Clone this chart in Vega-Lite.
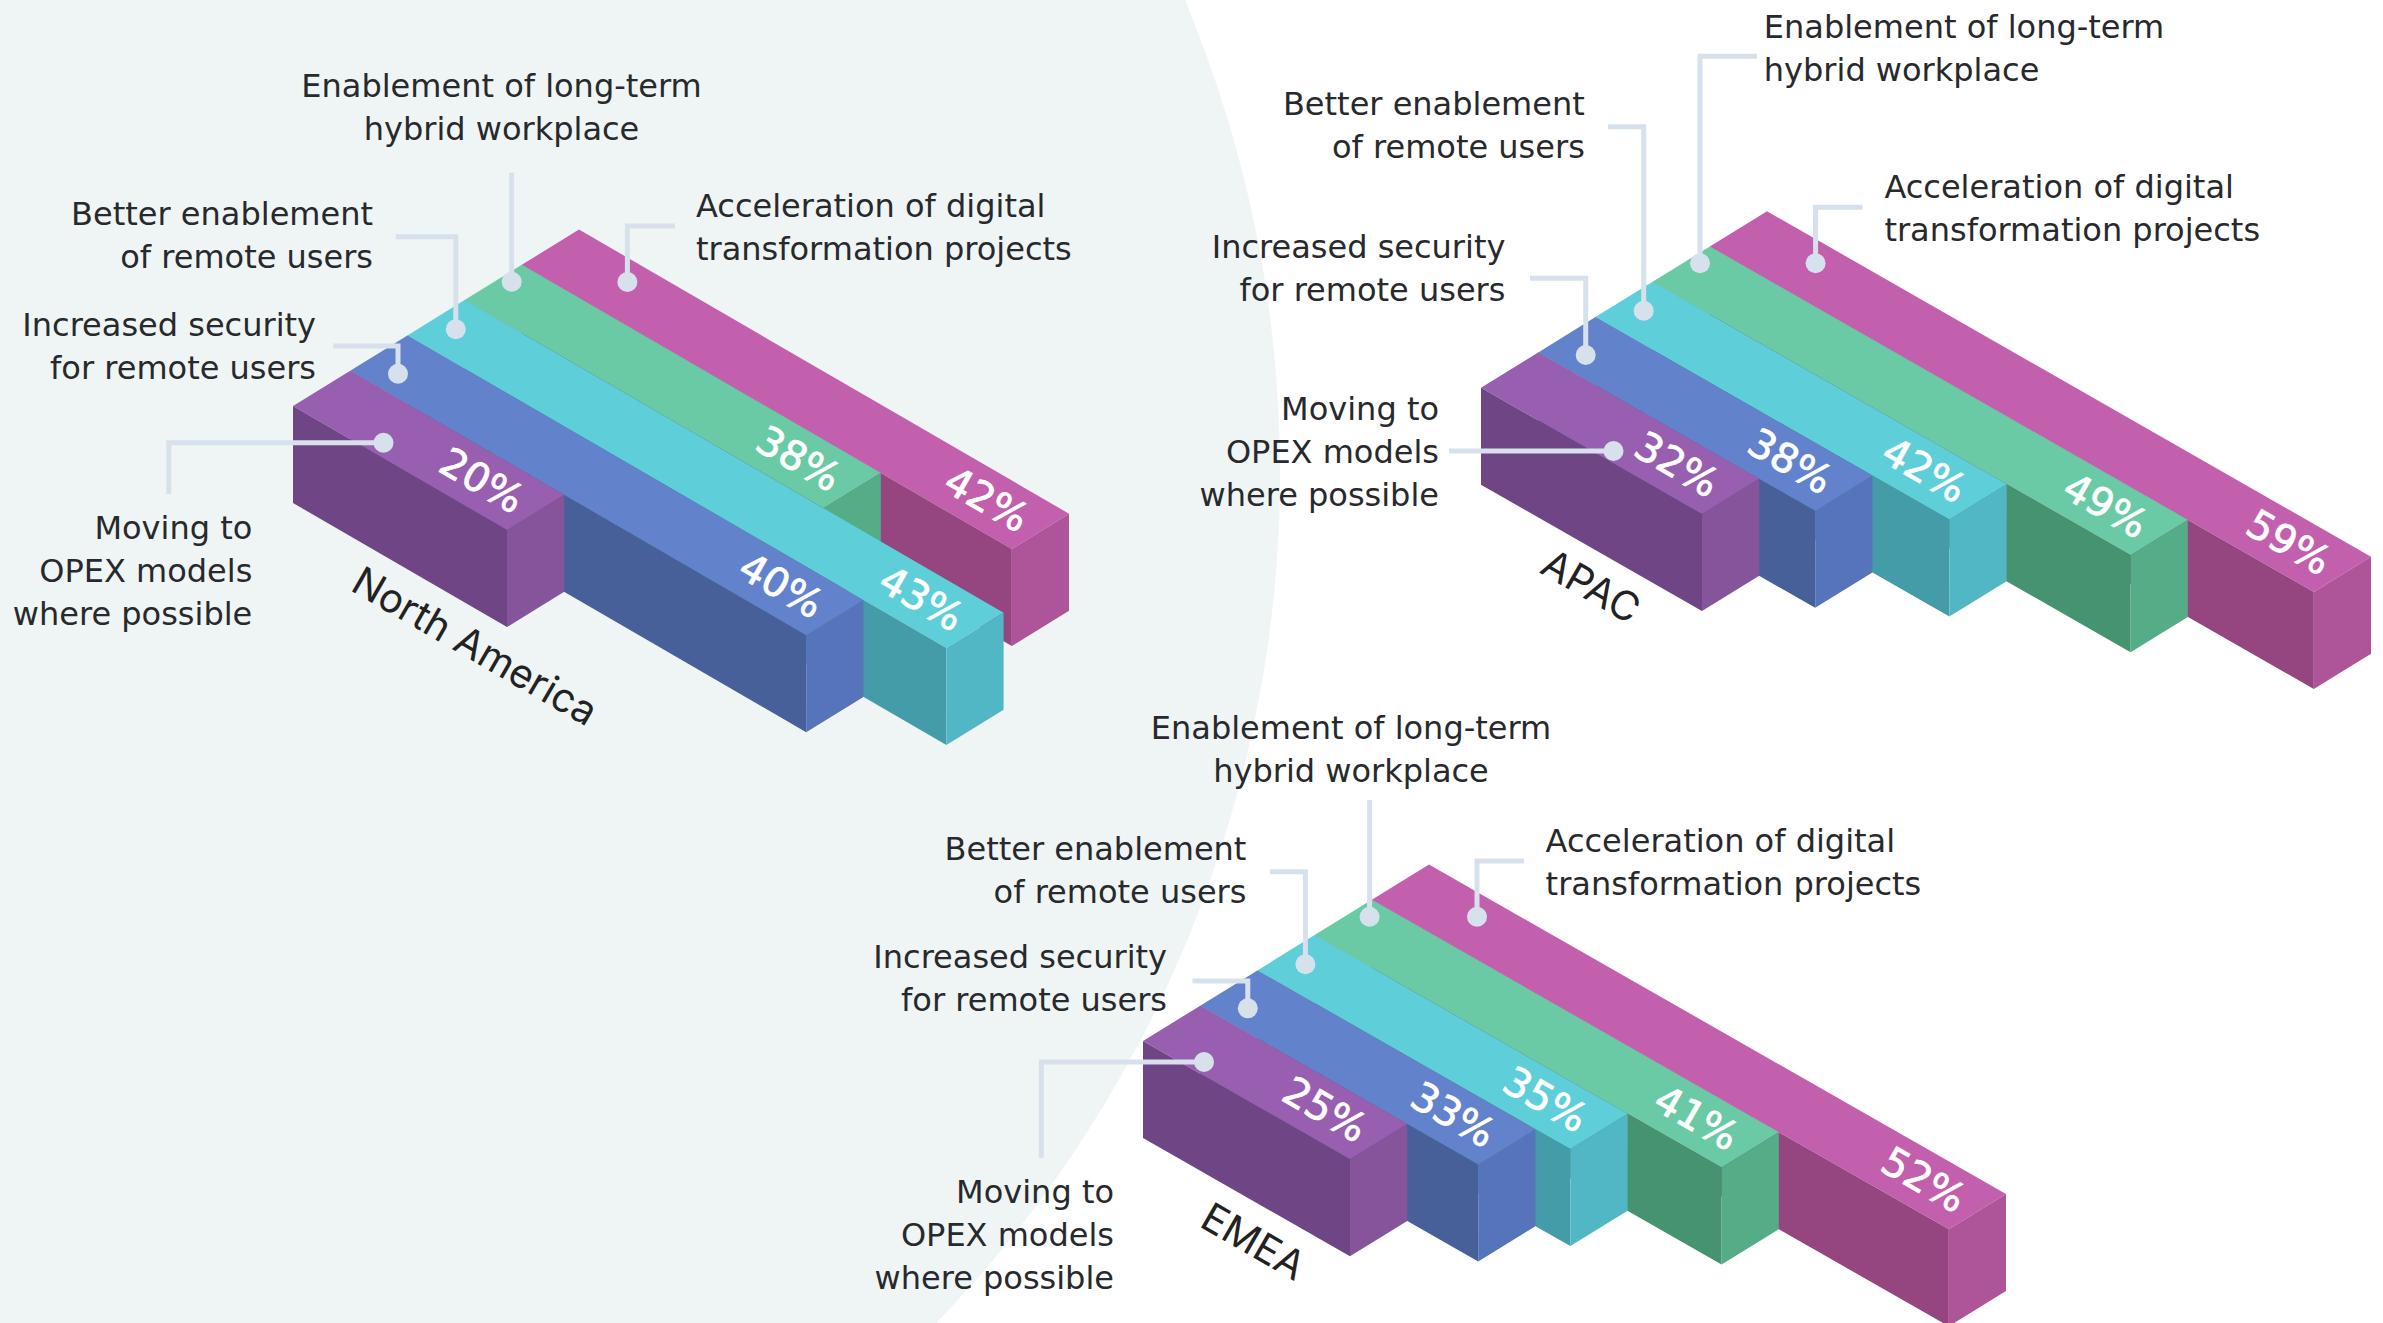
{
"$schema":"https://vega.github.io/schema/vega-lite/v6.json",
"width":2383,"height":1323,"autosize":{"type":"none"},"padding":0,"background":"#ffffff",
"config":{"view":{"stroke":null}},
"datasets":{
"bars":[
{"region":"North America","category":"Acceleration of digital transformation projects","value":0.42,"depth":490},
{"region":"North America","category":"Enablement of long-term hybrid workplace","value":0.38,"depth":359},
{"region":"North America","category":"Better enablement of remote users","value":0.43,"depth":539},
{"region":"North America","category":"Increased security for remote users","value":0.40,"depth":456},
{"region":"North America","category":"Moving to OPEX models where possible","value":0.20,"depth":214},
{"region":"APAC","category":"Acceleration of digital transformation projects","value":0.59,"depth":604},
{"region":"APAC","category":"Enablement of long-term hybrid workplace","value":0.49,"depth":478},
{"region":"APAC","category":"Better enablement of remote users","value":0.42,"depth":354},
{"region":"APAC","category":"Increased security for remote users","value":0.38,"depth":277},
{"region":"APAC","category":"Moving to OPEX models where possible","value":0.32,"depth":221},
{"region":"EMEA","category":"Acceleration of digital transformation projects","value":0.52,"depth":577},
{"region":"EMEA","category":"Enablement of long-term hybrid workplace","value":0.41,"depth":407},
{"region":"EMEA","category":"Better enablement of remote users","value":0.35,"depth":313},
{"region":"EMEA","category":"Increased security for remote users","value":0.33,"depth":278},
{"region":"EMEA","category":"Moving to OPEX models where possible","value":0.25,"depth":207}
],
"leaders":[
{"id":"NA-E","step":0,"x":511.7,"y":172.7},{"id":"NA-E","step":1,"x":511.7,"y":281.7,"dot":1},
{"id":"NA-B","step":0,"x":395.7,"y":236.7},{"id":"NA-B","step":1,"x":455.8,"y":236.7},{"id":"NA-B","step":2,"x":455.8,"y":329.3,"dot":1},
{"id":"NA-I","step":0,"x":333.3,"y":346},{"id":"NA-I","step":1,"x":398,"y":346},{"id":"NA-I","step":2,"x":398,"y":373.7,"dot":1},
{"id":"NA-M","step":0,"x":168.8,"y":494},{"id":"NA-M","step":1,"x":168.8,"y":442.7},{"id":"NA-M","step":2,"x":383.5,"y":442.7,"dot":1},
{"id":"NA-A","step":0,"x":675,"y":226},{"id":"NA-A","step":1,"x":627.4,"y":226},{"id":"NA-A","step":2,"x":627.4,"y":282,"dot":1},
{"id":"AP-E","step":0,"x":1757,"y":56.3},{"id":"AP-E","step":1,"x":1700,"y":56.3},{"id":"AP-E","step":2,"x":1700,"y":263.3,"dot":1},
{"id":"AP-B","step":0,"x":1608,"y":126.7},{"id":"AP-B","step":1,"x":1643.7,"y":126.7},{"id":"AP-B","step":2,"x":1643.7,"y":310.7,"dot":1},
{"id":"AP-I","step":0,"x":1530,"y":278.3},{"id":"AP-I","step":1,"x":1585.7,"y":278.3},{"id":"AP-I","step":2,"x":1585.7,"y":355,"dot":1},
{"id":"AP-A","step":0,"x":1862.5,"y":207.3},{"id":"AP-A","step":1,"x":1815.6,"y":207.3},{"id":"AP-A","step":2,"x":1815.6,"y":263.3,"dot":1},
{"id":"AP-M","step":0,"x":1449,"y":451},{"id":"AP-M","step":1,"x":1613.5,"y":451,"dot":1},
{"id":"EM-E","step":0,"x":1369.6,"y":800},{"id":"EM-E","step":1,"x":1369.6,"y":916.7,"dot":1},
{"id":"EM-B","step":0,"x":1270,"y":871.7},{"id":"EM-B","step":1,"x":1305.4,"y":871.7},{"id":"EM-B","step":2,"x":1305.4,"y":964.3,"dot":1},
{"id":"EM-I","step":0,"x":1192.4,"y":981},{"id":"EM-I","step":1,"x":1247.8,"y":981},{"id":"EM-I","step":2,"x":1247.8,"y":1008.3,"dot":1},
{"id":"EM-A","step":0,"x":1524,"y":861},{"id":"EM-A","step":1,"x":1477,"y":861},{"id":"EM-A","step":2,"x":1477,"y":916.7,"dot":1},
{"id":"EM-M","step":0,"x":1041.3,"y":1157.7},{"id":"EM-M","step":1,"x":1041.3,"y":1062},{"id":"EM-M","step":2,"x":1204,"y":1062,"dot":1}
],
"labels":[
{"label":"Enablement of long-term\nhybrid workplace","x":501.5,"y":96.5,"side":"center"},
{"label":"Better enablement\nof remote users","x":373,"y":224.8,"side":"right"},
{"label":"Increased security\nfor remote users","x":316,"y":335.8,"side":"right"},
{"label":"Moving to\nOPEX models\nwhere possible","x":252.3,"y":538.5,"side":"right"},
{"label":"Acceleration of digital\ntransformation projects","x":696,"y":217,"side":"left"},
{"label":"Enablement of long-term\nhybrid workplace","x":1763.8,"y":38.3,"side":"left"},
{"label":"Better enablement\nof remote users","x":1584.8,"y":114.5,"side":"right"},
{"label":"Increased security\nfor remote users","x":1505.4,"y":257.7,"side":"right"},
{"label":"Moving to\nOPEX models\nwhere possible","x":1439,"y":420,"side":"right"},
{"label":"Acceleration of digital\ntransformation projects","x":1884.4,"y":197.5,"side":"left"},
{"label":"Enablement of long-term\nhybrid workplace","x":1351,"y":738.5,"side":"center"},
{"label":"Better enablement\nof remote users","x":1246.4,"y":859.5,"side":"right"},
{"label":"Increased security\nfor remote users","x":1167,"y":967.5,"side":"right"},
{"label":"Moving to\nOPEX models\nwhere possible","x":1114,"y":1203,"side":"right"},
{"label":"Acceleration of digital\ntransformation projects","x":1545.6,"y":851.5,"side":"left"}
],
"regions":[
{"label":"North America","x":474,"y":648},
{"label":"APAC","x":1590,"y":588},
{"label":"EMEA","x":1252.5,"y":1243.3}
]
},
"encoding":{
"x":{"field":"x","type":"quantitative","axis":null,"scale":{"domain":[0,2383],"nice":false,"zero":false}},
"y":{"field":"y","type":"quantitative","axis":null,"scale":{"domain":[1323,0],"nice":false,"zero":false}}
},
"layer":[
{"data":{"values":[{"x":57,"y":473}]},
 "mark":{"type":"point","filled":true,"size":5983000,"color":"#EFF5F5","opacity":1,"clip":true}},
{"data":{"name":"bars"},
 "transform":[
 {"calculate":"indexof(['Moving to OPEX models where possible','Increased security for remote users','Better enablement of remote users','Enablement of long-term hybrid workplace','Acceleration of digital transformation projects'],datum.category)","as":"slot"},
 {"calculate":"(datum.region=='North America'?293:datum.region=='APAC'?1481:1143)+datum.slot*57.2","as":"sx"},
 {"calculate":"(datum.region=='North America'?406:datum.region=='APAC'?387.7:1041)-datum.slot*35.3","as":"sy"},
 {"calculate":"datum.region=='North America'?0.58:datum.region=='APAC'?0.572:0.571","as":"slope"},
 {"calculate":"['top','left','right']","as":"face"},
 {"flatten":["face"]},
 {"calculate":"[0,1,2,3]","as":"vi"},
 {"flatten":["vi"]},
 {"calculate":"datum.face=='top'?[0,0,1,1][datum.vi]:datum.face=='left'?[0,1,1,0][datum.vi]:1","as":"along"},
 {"calculate":"datum.face=='left'?0:[0,1,1,0][datum.vi]","as":"across"},
 {"calculate":"datum.face=='top'?0:[0,0,1,1][datum.vi]","as":"down"},
 {"calculate":"datum.sx+datum.along*datum.depth+datum.across*57.2","as":"x"},
 {"calculate":"datum.sy+datum.along*datum.depth*datum.slope-datum.across*35.3+datum.down*97","as":"y"},
 {"calculate":"datum.region+datum.slot+datum.face","as":"poly"},
 {"calculate":"datum.slot+datum.face","as":"shade"}
 ],
 "mark":{"type":"line","strokeWidth":0,"interpolate":"linear"},
 "encoding":{
  "detail":{"field":"poly","type":"nominal"},
  "order":{"field":"vi","type":"quantitative"},
  "fill":{"field":"shade","type":"nominal","legend":null,"scale":{
   "domain":["0top","0left","0right","1top","1left","1right","2top","2left","2right","3top","3left","3right","4top","4left","4right"],
   "range":["#985FB0","#704586","#85549B","#6282CB","#47609A","#5574B9","#5ECFD9","#449CA8","#52B7C4","#6ACAA5","#46936F","#55AD88","#C360AD","#954580","#AE5499"]}}
 }},
{"data":{"name":"leaders"},
 "mark":{"type":"line","strokeWidth":5,"color":"#D7E1EC","strokeJoin":"miter","strokeCap":"butt"},
 "encoding":{"detail":{"field":"id","type":"nominal"},"order":{"field":"step","type":"quantitative"}}},
{"data":{"name":"leaders"},
 "transform":[{"filter":"datum.dot==1"}],
 "mark":{"type":"point","filled":true,"size":400,"color":"#D7E1EC","opacity":1}},
{"data":{"name":"bars"},
 "transform":[
 {"calculate":"indexof(['Moving to OPEX models where possible','Increased security for remote users','Better enablement of remote users','Enablement of long-term hybrid workplace','Acceleration of digital transformation projects'],datum.category)","as":"slot"},
 {"calculate":"(datum.region=='North America'?293:datum.region=='APAC'?1481:1143)+datum.slot*57.2+datum.depth-26","as":"x"},
 {"calculate":"(datum.region=='North America'?406:datum.region=='APAC'?387.7:1041)-datum.slot*35.3+datum.depth*(datum.region=='North America'?0.58:datum.region=='APAC'?0.572:0.571)-48","as":"y"}
 ],
 "mark":{"type":"text","font":"DejaVu Sans","fontSize":40,"color":"#ffffff","stroke":"#ffffff","strokeWidth":0.8,"angle":30,"align":"center","baseline":"middle"},
 "encoding":{"text":{"field":"value","type":"quantitative","format":".0%"}}},
{"data":{"name":"labels"},"transform":[{"filter":"datum.side=='right'"}],
 "mark":{"type":"text","font":"DejaVu Sans","fontWeight":"normal","fontSize":32,"color":"#27292D","align":"right","baseline":"alphabetic","lineBreak":"\n","lineHeight":43},
 "encoding":{"text":{"field":"label"}}},
{"data":{"name":"labels"},"transform":[{"filter":"datum.side=='left'"}],
 "mark":{"type":"text","font":"DejaVu Sans","fontWeight":"normal","fontSize":32,"color":"#27292D","align":"left","baseline":"alphabetic","lineBreak":"\n","lineHeight":43},
 "encoding":{"text":{"field":"label"}}},
{"data":{"name":"labels"},"transform":[{"filter":"datum.side=='center'"}],
 "mark":{"type":"text","font":"DejaVu Sans","fontWeight":"normal","fontSize":32,"color":"#27292D","align":"center","baseline":"alphabetic","lineBreak":"\n","lineHeight":43},
 "encoding":{"text":{"field":"label"}}},
{"data":{"name":"regions"},
 "mark":{"type":"text","font":"Inter","fontSize":40,"color":"#222222","angle":30,"align":"center","baseline":"middle"},
 "encoding":{"text":{"field":"label"}}}
]
}
